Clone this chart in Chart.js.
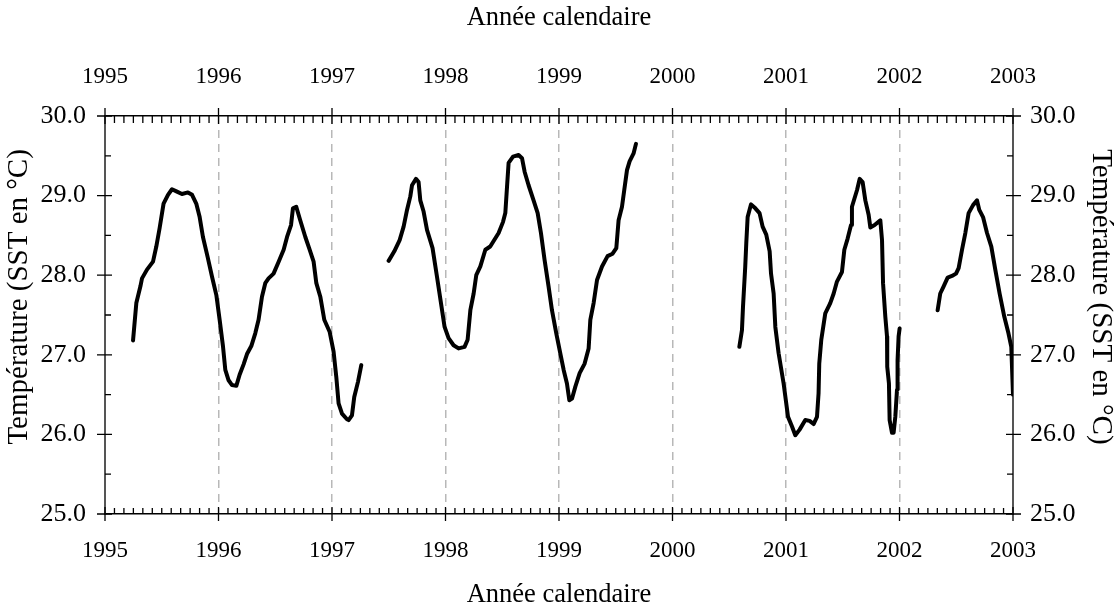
<!DOCTYPE html>
<html>
<head>
<meta charset="utf-8">
<script src="https://cdn.jsdelivr.net/npm/chart.js@4.4.1/dist/chart.umd.min.js"></script>
<style>
  html, body { margin: 0; padding: 0; background: #fff; }
  #wrap { width: 1117px; height: 608px; }
</style>
</head>
<body>
<div id="wrap"><canvas id="sst-chart" width="1117" height="608"></canvas></div>
<script>
// données SST (année décimale / température), null = trou dans la série
const dates = [
  1995.247, 1995.276, 1995.312, 1995.326, 1995.370, 1995.423, 1995.452, 1995.481, 1995.516, 1995.555,
  1995.590, 1995.634, 1995.678, 1995.731, 1995.767, 1995.804, 1995.834, 1995.863, 1995.904, 1995.943,
  1995.981, 1996.010, 1996.040, 1996.060, 1996.089, 1996.119, 1996.157, 1996.186, 1996.221, 1996.251,
  1996.289, 1996.324, 1996.353, 1996.383, 1996.412, 1996.441, 1996.485, 1996.530, 1996.574, 1996.604,
  1996.639, 1996.656, 1996.685, 1996.720, 1996.765, 1996.803, 1996.838, 1996.862, 1996.897, 1996.932,
  1996.979, 1997.014, 1997.038, 1997.058, 1997.088, 1997.132, 1997.146, 1997.176, 1997.196, 1997.229,
  1997.258,
  1997.38,
  1997.499, 1997.549, 1997.596, 1997.631, 1997.661, 1997.690, 1997.705, 1997.740, 1997.763, 1997.778,
  1997.807, 1997.837, 1997.886, 1997.925, 1997.960, 1997.992, 1998.027, 1998.071, 1998.115, 1998.168,
  1998.195, 1998.219, 1998.248, 1998.271, 1998.307, 1998.351, 1998.394, 1998.468, 1998.507, 1998.527,
  1998.542, 1998.556, 1998.595, 1998.644, 1998.674, 1998.697, 1998.732, 1998.776, 1998.812, 1998.841,
  1998.873, 1998.908, 1998.938, 1998.976, 1999.011, 1999.041, 1999.070, 1999.091, 1999.115, 1999.144,
  1999.182, 1999.226, 1999.261, 1999.276, 1999.305, 1999.335, 1999.379, 1999.428, 1999.472, 1999.505,
  1999.525, 1999.555, 1999.575, 1999.599, 1999.622, 1999.657, 1999.678,
  2000.1,
  2000.589, 2000.612, 2000.621, 2000.641, 2000.650, 2000.662, 2000.692, 2000.730, 2000.767, 2000.794,
  2000.826, 2000.856, 2000.868, 2000.891, 2000.906, 2000.935, 2000.979, 2001.018, 2001.053, 2001.082,
  2001.120, 2001.170, 2001.208, 2001.243, 2001.273, 2001.287, 2001.293, 2001.311, 2001.346, 2001.390,
  2001.420, 2001.449, 2001.493, 2001.514, 2001.543, 2001.573, 2001.581, 2001.626, 2001.649, 2001.675,
  2001.699, 2001.728, 2001.743, 2001.781, 2001.831, 2001.846, 2001.855, 2001.875, 2001.890, 2001.892,
  2001.907, 2001.913, 2001.934, 2001.948, 2001.963, 2001.978, 2001.983, 2001.992, 2002.001,
  2002.17,
  2002.336, 2002.359, 2002.389, 2002.424, 2002.462, 2002.498, 2002.521, 2002.551, 2002.580, 2002.609,
  2002.648, 2002.683, 2002.703, 2002.736, 2002.771, 2002.809, 2002.844, 2002.882, 2002.923, 2002.960,
  2002.985, 2003.000
];
const sst = [
  27.18, 27.65, 27.86, 27.96, 28.07, 28.17, 28.36, 28.59, 28.90, 29.01,
  29.08, 29.05, 29.02, 29.04, 29.01, 28.90, 28.73, 28.48, 28.23, 27.98,
  27.75, 27.44, 27.10, 26.81, 26.68, 26.62, 26.61, 26.75, 26.88, 27.01,
  27.11, 27.27, 27.44, 27.73, 27.90, 27.96, 28.02, 28.17, 28.32, 28.48,
  28.63, 28.84, 28.86, 28.69, 28.48, 28.32, 28.17, 27.90, 27.73, 27.44,
  27.29, 27.04, 26.72, 26.39, 26.26, 26.19, 26.18, 26.24, 26.47, 26.66,
  26.87,
  null,
  28.18, 28.30, 28.44, 28.61, 28.82, 28.99, 29.13, 29.21, 29.17, 28.94,
  28.80, 28.57, 28.34, 27.98, 27.65, 27.35, 27.21, 27.12, 27.08, 27.10,
  27.19, 27.56, 27.77, 28.00, 28.11, 28.32, 28.36, 28.53, 28.67, 28.78,
  29.11, 29.41, 29.49, 29.51, 29.47, 29.30, 29.13, 28.94, 28.78, 28.53,
  28.19, 27.86, 27.56, 27.27, 27.02, 26.81, 26.64, 26.43, 26.45, 26.60,
  26.77, 26.89, 27.08, 27.44, 27.65, 27.94, 28.11, 28.24, 28.27, 28.34,
  28.69, 28.86, 29.07, 29.32, 29.43, 29.53, 29.65,
  null,
  27.10, 27.31, 27.60, 28.11, 28.40, 28.73, 28.89, 28.84, 28.78, 28.61,
  28.51, 28.30, 28.02, 27.77, 27.35, 27.02, 26.64, 26.22, 26.10, 25.99,
  26.06, 26.18, 26.17, 26.13, 26.22, 26.52, 26.89, 27.19, 27.52, 27.65,
  27.77, 27.92, 28.04, 28.32, 28.46, 28.63, 28.86, 29.07, 29.21, 29.17,
  28.94, 28.76, 28.60, 28.63, 28.69, 28.44, 27.90, 27.48, 27.23, 26.85,
  26.64, 26.18, 26.02, 26.02, 26.22, 26.56, 26.93, 27.23, 27.33,
  null,
  27.56, 27.77, 27.86, 27.97, 27.99, 28.02, 28.09, 28.32, 28.53, 28.78,
  28.88, 28.94, 28.82, 28.73, 28.53, 28.36, 28.07, 27.77, 27.48, 27.27,
  27.10, 26.50
];
const yearTicks = [1995, 1996, 1997, 1998, 1999, 2000, 2001, 2002, 2003];
const tempTicks = [25, 26, 27, 28, 29, 30];

const serif = "'Liberation Serif', 'Times New Roman', serif";
const xTickFont = { family: serif, size: 23 };
const yTickFont = { family: serif, size: 26 };
const xTitleFont = { family: serif, size: 26.5, lineHeight: 1 };
const yTitleFont = { family: serif, size: 29, lineHeight: 1 };

// zone de tracé fixe
const AREA = { left: 105, right: 1013, top: 116, bottom: 514 };

// petites graduations (mois / demi-degrés), vers l'intérieur
const minorTicks = {
  id: 'minorTicks',
  afterDraw(chart) {
    const { ctx, chartArea: a, scales } = chart;
    ctx.save();
    ctx.strokeStyle = '#000';
    ctx.lineWidth = 1.3;
    ctx.beginPath();
    const x0 = yearTicks[0], x1 = yearTicks[yearTicks.length - 1];
    for (let m = 0; m <= (x1 - x0) * 12; m++) {
      const px = scales.x.getPixelForValue(x0 + m / 12);
      const major = m % 12 === 0;
      ctx.moveTo(px, a.bottom + (major ? 7 : 0));
      ctx.lineTo(px, a.bottom - (major ? 7 : 6));
      ctx.moveTo(px, a.top - (major ? 8 : 0));
      ctx.lineTo(px, a.top + (major ? 8 : 7));
    }
    const y0 = tempTicks[0], y1 = tempTicks[tempTicks.length - 1];
    for (let k = 0; k <= (y1 - y0) * 2; k++) {
      const py = scales.y.getPixelForValue(y0 + k / 2);
      const major = k % 2 === 0;
      ctx.moveTo(a.left - (major ? 8 : 0), py);
      ctx.lineTo(a.left + (major ? 7 : 6), py);
      ctx.moveTo(a.right + (major ? 8 : 0), py);
      ctx.lineTo(a.right - (major ? 7 : 6), py);
    }
    ctx.stroke();
    ctx.restore();
  }
};

const yearAxis = (position, pad, titlePad) => ({
  type: 'linear',
  position: position,
  min: yearTicks[0],
  max: yearTicks[yearTicks.length - 1],
  afterBuildTicks: (scale) => { scale.ticks = yearTicks.map(v => ({ value: v })); },
  afterFit: (scale) => {
    scale.height = position === 'top' ? AREA.top : 608 - AREA.bottom;
  },
  ticks: { color: '#000', font: xTickFont, padding: pad, maxRotation: 0, autoSkip: false,
           callback: (v) => String(v) },
  grid: {
    display: position === 'bottom',
    drawOnChartArea: position === 'bottom',
    drawTicks: false,
    color: (c) => (c.tick && (c.tick.value === yearTicks[0] || c.tick.value === yearTicks[yearTicks.length - 1])) ? 'rgba(0,0,0,0)' : '#b8b8b8',
    lineWidth: 1.5
  },
  border: { display: true, color: '#000', width: 1.5, dash: [8, 6] },
  title: { display: true, text: 'Année calendaire', color: '#000', font: xTitleFont, padding: titlePad }
});

// le titre vertical est un peu décalé vers le haut dans l'original
const yTitle = 'Température (SST en °C)';
const shift = '\u00a0\u00a0\u00a0\u00a0\u00a0';

const tempAxis = (position, pad, titlePad) => ({
  type: 'linear',
  position: position,
  min: tempTicks[0],
  max: tempTicks[tempTicks.length - 1],
  afterBuildTicks: (scale) => { scale.ticks = tempTicks.map(v => ({ value: v })); },
  afterFit: (scale) => {
    scale.width = position === 'left' ? AREA.left : 1117 - AREA.right;
  },
  ticks: { color: '#000', font: yTickFont, padding: pad, callback: (v) => Number(v).toFixed(1) },
  grid: { display: false, drawTicks: false },
  border: { display: true, color: '#555', width: 2 },
  title: { display: true, text: position === 'left' ? shift + yTitle : yTitle + shift,
           color: '#000', font: yTitleFont, padding: titlePad }
});

new Chart(document.getElementById('sst-chart'), {
  type: 'line',
  data: {
    datasets: [{
      label: 'SST',
      data: dates.map((d, i) => ({ x: d, y: sst[i] })),
      borderColor: '#000',
      borderWidth: 4,
      pointRadius: 0,
      tension: 0,
      spanGaps: false,
      borderJoinStyle: 'round',
      borderCapStyle: 'round'
    }]
  },
  options: {
    responsive: false,
    animation: false,
    layout: { padding: 0 },
    plugins: { legend: { display: false }, tooltip: { enabled: false } },
    scales: {
      x: yearAxis('bottom', 23, { top: 0, bottom: 0 }),
      x2: yearAxis('top', 25, { top: 5, bottom: 0 }),
      y: tempAxis('left', 19, { top: 5, bottom: 0 }),
      y2: tempAxis('right', 17, { top: 2, bottom: 0 })
    }
  },
  plugins: [minorTicks]
});
</script>
</body>
</html>
